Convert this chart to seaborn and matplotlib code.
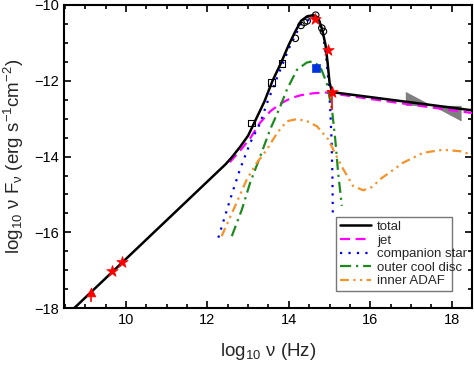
import matplotlib
matplotlib.use("Agg")
import matplotlib.pyplot as plt
import seaborn as sns

# model curves (log nu, log nuFnu)
total_x = [8.7, 12.45, 12.6, 12.8, 13.0, 13.2, 13.4, 13.6, 13.8, 14.0, 14.15, 14.3,
           14.45, 14.6, 14.72, 14.82, 14.9, 14.95, 15.0, 15.06, 18.5]
total_y = [-18.03, -14.2, -14.02, -13.75, -13.45, -13.0, -12.55, -12.0, -11.55, -11.05,
           -10.72, -10.42, -10.3, -10.27, -10.33, -10.65, -11.05, -11.5, -12.05, -12.3, -12.78]

jet_x = [12.55, 12.8, 13.05, 13.3, 13.55, 13.8, 14.05, 14.3, 14.6, 14.9, 15.1, 16.0, 17.0, 18.5]
jet_y = [-14.15, -13.85, -13.52, -13.1, -12.8, -12.6, -12.46, -12.38, -12.33, -12.31,
         -12.34, -12.48, -12.63, -12.85]

star_x = [12.27, 12.56, 12.8, 13.05, 13.3, 13.46, 13.7, 14.0, 14.3, 14.55, 14.75, 14.85,
          14.92, 14.98, 15.02, 15.05, 15.07, 15.08]
star_y = [-16.14, -15.13, -14.34, -13.64, -13.11, -12.6, -11.95, -11.15, -10.5, -10.36,
          -10.45, -10.85, -11.4, -12.1, -12.8, -13.6, -14.5, -15.5]

disc_x = [12.6, 12.85, 13.05, 13.3, 13.54, 13.79, 13.95, 14.2, 14.44, 14.57, 14.77, 14.93,
          15.06, 15.14, 15.21, 15.27, 15.3]
disc_y = [-16.1, -15.39, -14.69, -13.99, -13.29, -12.68, -12.24, -11.71, -11.52, -11.49,
          -11.62, -12.06, -12.76, -13.55, -14.42, -15.0, -15.3]

adaf_x = [12.35, 12.68, 12.97, 13.21, 13.46, 13.71, 13.95, 14.2, 14.45, 14.69, 14.97, 15.15,
          15.34, 15.58, 15.83, 16.05, 16.24, 16.5, 16.81, 17.3, 17.79, 18.21, 18.55]
adaf_y = [-16.1, -15.31, -14.6, -14.17, -13.82, -13.38, -13.07, -13.01, -13.07, -13.2, -13.55,
          -13.95, -14.34, -14.78, -14.89, -14.8, -14.6, -14.4, -14.16, -13.9, -13.82, -13.86, -13.97]

# observed data points
circ_x = [14.16, 14.3, 14.38, 14.45, 14.66, 14.81, 14.85]
circ_y = [-10.88, -10.54, -10.46, -10.42, -10.27, -10.61, -10.7]
sq_x = [13.09, 13.57, 13.83]
sq_y = [-13.12, -12.04, -11.54]
redstar_x = [9.66, 9.91, 14.65, 14.97, 15.06]
redstar_y = [-17.02, -16.78, -10.37, -11.2, -12.3]
tri_x = [9.14]
tri_y = [-17.58]
bluesq_x = [14.66]
bluesq_y = [-11.67]

# X-ray bowtie
bow_x = [16.86, 18.23]
bow_a = [-12.28, -13.06]
bow_b = [-12.65, -12.65]

sns.set_theme(style="ticks")
plt.rcParams['font.family'] = ['Liberation Sans', 'DejaVu Sans']
plt.rcParams['mathtext.default'] = 'regular'

fig = plt.figure(figsize=(4.74, 3.8), dpi=100)
ax = fig.add_axes([0.135, 0.189, 0.861, 0.798])

ax.fill_between(bow_x, bow_a, bow_b, color='#7f7f7f', lw=0, zorder=2)

sns.lineplot(x=jet_x, y=jet_y, ax=ax, color='#ff00ff', lw=1.6,
             linestyle=(0, (4.5, 2.5)), label='jet', zorder=3)
sns.lineplot(x=star_x, y=star_y, ax=ax, color='#0000ee', lw=1.6,
             linestyle=(0, (1, 2.8)), label='companion star', zorder=3)
sns.lineplot(x=disc_x, y=disc_y, ax=ax, color='#1e8a1e', lw=1.6,
             linestyle=(0, (5, 2.2, 1, 2.2)), label='outer cool disc', zorder=3)
sns.lineplot(x=adaf_x, y=adaf_y, ax=ax, color='#f5922a', lw=1.6,
             linestyle=(0, (4, 2, 1, 2, 1, 2)), label='inner ADAF', zorder=3)
sns.lineplot(x=total_x, y=total_y, ax=ax, color='black', lw=1.8,
             label='total', zorder=4)

# data markers
sns.scatterplot(x=circ_x, y=circ_y, ax=ax, marker='o', s=22, facecolor='none',
                edgecolor='black', linewidth=0.8, zorder=5)
sns.scatterplot(x=sq_x, y=sq_y, ax=ax, marker='s', s=22, facecolor='none',
                edgecolor='black', linewidth=0.8, zorder=5)
ax.vlines([15.06], -12.78, -12.3, color='red', lw=1.2, zorder=5)
ax.vlines(tri_x, -17.85, -17.7, color='red', lw=1.2, zorder=5)
sns.scatterplot(x=redstar_x, y=redstar_y, ax=ax, marker='*', s=75, color='red',
                edgecolor='red', linewidth=0.5, zorder=6)
sns.scatterplot(x=tri_x, y=tri_y, ax=ax, marker='^', s=40, color='red',
                edgecolor='red', zorder=6)
sns.scatterplot(x=bluesq_x, y=bluesq_y, ax=ax, marker='s', s=36, color='#0033dd',
                edgecolor='#0033dd', zorder=6)

ax.set_xlim(8.48, 18.5)
ax.set_ylim(-18, -10)
ax.set_xticks([10, 12, 14, 16, 18])
ax.set_yticks([-18, -16, -14, -12, -10])
ax.set_xticks([x / 2 for x in range(17, 38)], minor=True)
ax.set_yticks([-18 + y / 2 for y in range(17)], minor=True)
ax.tick_params(which='both', direction='in', top=True, right=True, labelsize=10.5,
               width=1.2, colors='black')
ax.tick_params(which='major', length=5)
ax.tick_params(which='minor', length=3)
for sp in ax.spines.values():
    sp.set_linewidth(1.5)
    sp.set_color('black')

ax.set_xlabel(r'log$_{10}$ ν (Hz)', fontsize=13.5, labelpad=10)
ax.set_ylabel(r'log$_{10}$ ν F$_{ν}$ (erg s$^{-1}$cm$^{-2}$)', fontsize=13.5, labelpad=6)

handles, labels = ax.get_legend_handles_labels()
order = ['total', 'jet', 'companion star', 'outer cool disc', 'inner ADAF']
hmap = dict(zip(labels, handles))
leg = ax.legend([hmap[k] for k in order], order, loc='lower left',
                bbox_to_anchor=(0.667, 0.056, 0.283, 0.238), mode='expand',
                fontsize=9.5, handlelength=2.3, handletextpad=0.5, labelspacing=0.1,
                borderpad=0.3, borderaxespad=0, fancybox=False, framealpha=1,
                edgecolor='#777777')
leg.get_frame().set_linewidth(1.0)

fig.savefig('out.png', dpi=100)
